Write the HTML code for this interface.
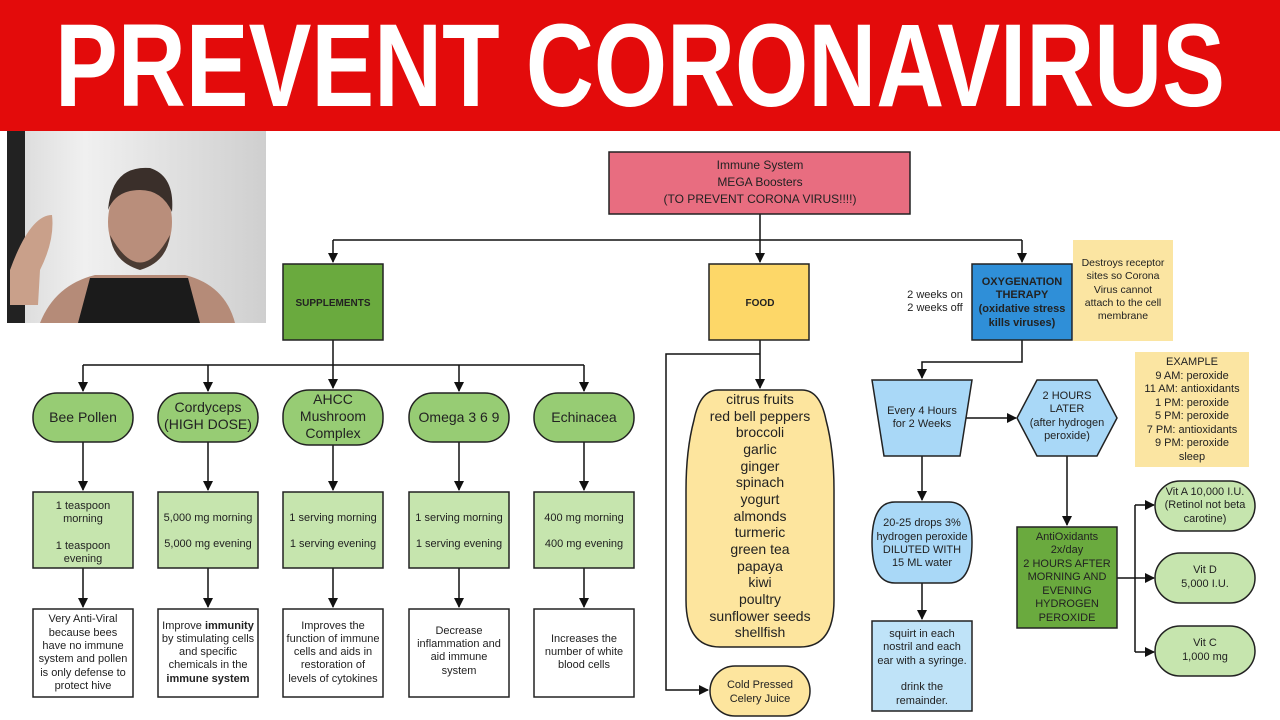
<!DOCTYPE html>
<html><head><meta charset="utf-8"><style>
html,body{margin:0;padding:0;background:#fff;}
svg{display:block;font-family:"Liberation Sans",sans-serif;}
</style></head><body>
<svg width="1280" height="720" viewBox="0 0 1280 720" xmlns="http://www.w3.org/2000/svg">
<defs>
<marker id="a" markerWidth="10" markerHeight="10" refX="9" refY="5" orient="auto" markerUnits="userSpaceOnUse"><path d="M0,0 L10,5 L0,10 z" fill="#111"/></marker>
<linearGradient id="cur" x1="0" x2="1"><stop offset="0" stop-color="#d8d8d8"/><stop offset="0.3" stop-color="#f0f0f0"/><stop offset="0.6" stop-color="#e2e2e2"/><stop offset="1" stop-color="#cfcfcf"/></linearGradient>
</defs>
<rect x="0" y="0" width="1280" height="131" fill="#e30b0b"/>
<text x="55" y="106" font-size="118" font-weight="bold" fill="#fff" textLength="1170" lengthAdjust="spacingAndGlyphs">PREVENT CORONAVIRUS</text>

<!-- photo -->
<rect x="7" y="131" width="259" height="192" fill="url(#cur)"/>
<rect x="7" y="131" width="18" height="192" fill="#222"/>
<path d="M10,270 Q30,215 52,215 Q55,240 40,270 L38,305 L10,305z" fill="#c9a08a"/>
<path d="M40,323 Q55,285 95,275 L185,275 Q225,285 235,323z" fill="#b58b78"/>
<path d="M78,323 L90,278 L188,278 L200,323z" fill="#1b1b1b"/>
<ellipse cx="140" cy="222" rx="32" ry="45" fill="#b98e7b"/>
<path d="M108,210 Q112,165 150,168 Q175,176 172,212 Q162,190 140,190 Q116,190 108,210z" fill="#3a2f2a"/>
<path d="M110,235 Q140,290 170,235 Q167,262 140,270 Q113,262 110,235z" fill="#4a3b33"/>

<g stroke="#111" stroke-width="1.5" fill="none">
<path d="M760,214 V262" marker-end="url(#a)"/>
<path d="M333,240 H1022"/>
<path d="M333,240 V262" marker-end="url(#a)"/>
<path d="M1022,240 V262" marker-end="url(#a)"/>
<path d="M333,340 V365 M83,365 H584"/>
<path d="M83,365 V391" marker-end="url(#a)"/><path d="M208,365 V391" marker-end="url(#a)"/><path d="M333,365 V388" marker-end="url(#a)"/><path d="M459,365 V391" marker-end="url(#a)"/><path d="M584,365 V391" marker-end="url(#a)"/>
<path d="M83,442 V490" marker-end="url(#a)"/><path d="M208,442 V490" marker-end="url(#a)"/><path d="M333,445 V490" marker-end="url(#a)"/><path d="M459,442 V490" marker-end="url(#a)"/><path d="M584,442 V490" marker-end="url(#a)"/>
<path d="M83,568 V607" marker-end="url(#a)"/><path d="M208,568 V607" marker-end="url(#a)"/><path d="M333,568 V607" marker-end="url(#a)"/><path d="M459,568 V607" marker-end="url(#a)"/><path d="M584,568 V607" marker-end="url(#a)"/>
<path d="M760,340 V388" marker-end="url(#a)"/>
<path d="M760,354 H666 V690 H708" marker-end="url(#a)"/>
<path d="M1022,340 V362 H922 V378" marker-end="url(#a)"/>
<path d="M960,418 H1016" marker-end="url(#a)"/>
<path d="M922,456 V500" marker-end="url(#a)"/>
<path d="M922,583 V619" marker-end="url(#a)"/>
<path d="M1067,456 V525" marker-end="url(#a)"/>
<path d="M1117,578 H1135 M1135,505 V652"/>
<path d="M1135,505 H1154" marker-end="url(#a)"/><path d="M1135,578 H1154" marker-end="url(#a)"/><path d="M1135,652 H1154" marker-end="url(#a)"/>
</g>

<g stroke="#222" stroke-width="1.5">
<rect x="609" y="152" width="301" height="62" fill="#e86d80"/>
<rect x="283" y="264" width="100" height="76" fill="#6aaa3e"/>
<rect x="709" y="264" width="100" height="76" fill="#fdd768"/>
<rect x="972" y="264" width="100" height="76" fill="#2f8fd8"/>
<rect x="33" y="393" width="100" height="49" rx="24" fill="#97cc74"/>
<rect x="158" y="393" width="100" height="49" rx="24" fill="#97cc74"/>
<rect x="283" y="390" width="100" height="55" rx="26" fill="#97cc74"/>
<rect x="409" y="393" width="100" height="49" rx="24" fill="#97cc74"/>
<rect x="534" y="393" width="100" height="49" rx="24" fill="#97cc74"/>
<rect x="33" y="492" width="100" height="76" fill="#c6e5ae"/>
<rect x="158" y="492" width="100" height="76" fill="#c6e5ae"/>
<rect x="283" y="492" width="100" height="76" fill="#c6e5ae"/>
<rect x="409" y="492" width="100" height="76" fill="#c6e5ae"/>
<rect x="534" y="492" width="100" height="76" fill="#c6e5ae"/>
<rect x="33" y="609" width="100" height="88" fill="#fff"/>
<rect x="158" y="609" width="100" height="88" fill="#fff"/>
<rect x="283" y="609" width="100" height="88" fill="#fff"/>
<rect x="409" y="609" width="100" height="88" fill="#fff"/>
<rect x="534" y="609" width="100" height="88" fill="#fff"/>
<path d="M718,390 H802 Q820,390 826,420 Q834,450 834,490 V600 Q834,647 800,647 H720 Q686,647 686,600 V490 Q686,450 694,420 Q700,390 718,390z" fill="#fde59e"/>
<rect x="710" y="666" width="100" height="50" rx="25" fill="#fde59e"/>
<path d="M872,380 H972 L960,456 H884z" fill="#a9d8f7"/>
<path d="M1037,380 H1097 L1117,418 L1097,456 H1037 L1017,418z" fill="#a9d8f7"/>
<path d="M895,502 H949 Q972,502 972,542 Q972,583 949,583 H895 Q872,583 872,542 Q872,502 895,502z" fill="#a9d8f7"/>
<rect x="872" y="621" width="100" height="90" fill="#bfe3f8"/>
<rect x="1017" y="527" width="100" height="101" fill="#6aaa3e"/>
<rect x="1155" y="481" width="100" height="50" rx="25" fill="#c6e5ae"/>
<rect x="1155" y="553" width="100" height="50" rx="25" fill="#c6e5ae"/>
<rect x="1155" y="626" width="100" height="50" rx="25" fill="#c6e5ae"/>
</g>
<rect x="1073" y="240" width="100" height="101" fill="#fbe5a2"/>
<rect x="1135" y="352" width="114" height="115" fill="#fbe5a2"/>

<g font-size="12" fill="#222" text-anchor="middle">
<text x="760" y="169">Immune System</text><text x="760" y="186">MEGA Boosters</text><text x="760" y="203">(TO PREVENT CORONA VIRUS!!!!)</text>
<text x="333" y="306" font-size="10" font-weight="bold">SUPPLEMENTS</text>
<text x="760" y="306" font-size="10" font-weight="bold">FOOD</text>
<g font-size="11" font-weight="bold"><text x="1022" y="285">OXYGENATION</text><text x="1022" y="298">THERAPY</text><text x="1022" y="312">(oxidative stress</text><text x="1022" y="326">kills viruses)</text></g>
<g font-size="10.5"><text x="1123" y="266">Destroys receptor</text><text x="1123" y="279">sites so Corona</text><text x="1123" y="293">Virus cannot</text><text x="1123" y="306">attach to the cell</text><text x="1123" y="319">membrane</text></g>
<text x="935" y="298" font-size="11">2 weeks on</text><text x="935" y="311" font-size="11">2 weeks off</text>
<g font-size="14"><text x="83" y="422">Bee Pollen</text><text x="208" y="412">Cordyceps</text><text x="208" y="429">(HIGH DOSE)</text>
<text x="333" y="404">AHCC</text><text x="333" y="421">Mushroom</text><text x="333" y="438">Complex</text>
<text x="459" y="422">Omega 3 6 9</text><text x="584" y="422">Echinacea</text></g>
<g font-size="11"><text x="83" y="509">1 teaspoon</text><text x="83" y="522">morning</text><text x="83" y="549">1 teaspoon</text><text x="83" y="562">evening</text>
<text x="208" y="521">5,000 mg morning</text><text x="208" y="547">5,000 mg evening</text>
<text x="333" y="521">1 serving morning</text><text x="333" y="547">1 serving evening</text>
<text x="459" y="521">1 serving morning</text><text x="459" y="547">1 serving evening</text>
<text x="584" y="521">400 mg morning</text><text x="584" y="547">400 mg evening</text>
<text x="83" y="622">Very Anti-Viral</text><text x="83" y="636">because bees</text><text x="83" y="649">have no immune</text><text x="83" y="662">system and pollen</text><text x="83" y="676">is only defense to</text><text x="83" y="689">protect hive</text>
<text x="208" y="629">Improve <tspan font-weight="bold">immunity</tspan></text><text x="208" y="642">by stimulating cells</text><text x="208" y="655">and specific</text><text x="208" y="668">chemicals in the</text><text x="208" y="682" font-weight="bold">immune system</text>
<text x="333" y="629">Improves the</text><text x="333" y="642">function of immune</text><text x="333" y="655">cells and aids in</text><text x="333" y="668">restoration of</text><text x="333" y="682">levels of cytokines</text>
<text x="459" y="634">Decrease</text><text x="459" y="647">inflammation and</text><text x="459" y="660">aid immune</text><text x="459" y="674">system</text>
<text x="584" y="642">Increases the</text><text x="584" y="655">number of white</text><text x="584" y="668">blood cells</text>
<text x="760" y="688">Cold Pressed</text><text x="760" y="702">Celery Juice</text>
<text x="922" y="414">Every 4 Hours</text><text x="922" y="427">for 2 Weeks</text>
<text x="1067" y="399">2 HOURS</text><text x="1067" y="412">LATER</text><text x="1067" y="426">(after hydrogen</text><text x="1067" y="439">peroxide)</text>
<text x="922" y="526">20-25 drops 3%</text><text x="922" y="540">hydrogen peroxide</text><text x="922" y="553">DILUTED WITH</text><text x="922" y="566">15 ML water</text>
<text x="922" y="637">squirt in each</text><text x="922" y="650">nostril and each</text><text x="922" y="664">ear with a syringe.</text><text x="922" y="690">drink the</text><text x="922" y="704">remainder.</text>
<text x="1067" y="540">AntiOxidants</text><text x="1067" y="553">2x/day</text><text x="1067" y="567">2 HOURS AFTER</text><text x="1067" y="580">MORNING AND</text><text x="1067" y="594">EVENING</text><text x="1067" y="607">HYDROGEN</text><text x="1067" y="621">PEROXIDE</text>
<text x="1205" y="495">Vit A 10,000 I.U.</text><text x="1205" y="508">(Retinol not beta</text><text x="1205" y="522">carotine)</text>
<text x="1205" y="573">Vit D</text><text x="1205" y="587">5,000 I.U.</text>
<text x="1205" y="646">Vit C</text><text x="1205" y="660">1,000 mg</text>
<text x="1192" y="365">EXAMPLE</text><text x="1192" y="379">9 AM: peroxide</text><text x="1192" y="392">11 AM: antioxidants</text><text x="1192" y="406">1 PM: peroxide</text><text x="1192" y="419">5 PM: peroxide</text><text x="1192" y="433">7 PM: antioxidants</text><text x="1192" y="446">9 PM: peroxide</text><text x="1192" y="460">sleep</text></g>
<g font-size="14"><text x="760" y="404">citrus fruits</text><text x="760" y="421">red bell peppers</text><text x="760" y="437">broccoli</text><text x="760" y="454">garlic</text><text x="760" y="471">ginger</text><text x="760" y="487">spinach</text><text x="760" y="504">yogurt</text><text x="760" y="521">almonds</text><text x="760" y="537">turmeric</text><text x="760" y="554">green tea</text><text x="760" y="571">papaya</text><text x="760" y="587">kiwi</text><text x="760" y="604">poultry</text><text x="760" y="621">sunflower seeds</text><text x="760" y="637">shellfish</text></g>
</g>
</svg>
</body></html>
